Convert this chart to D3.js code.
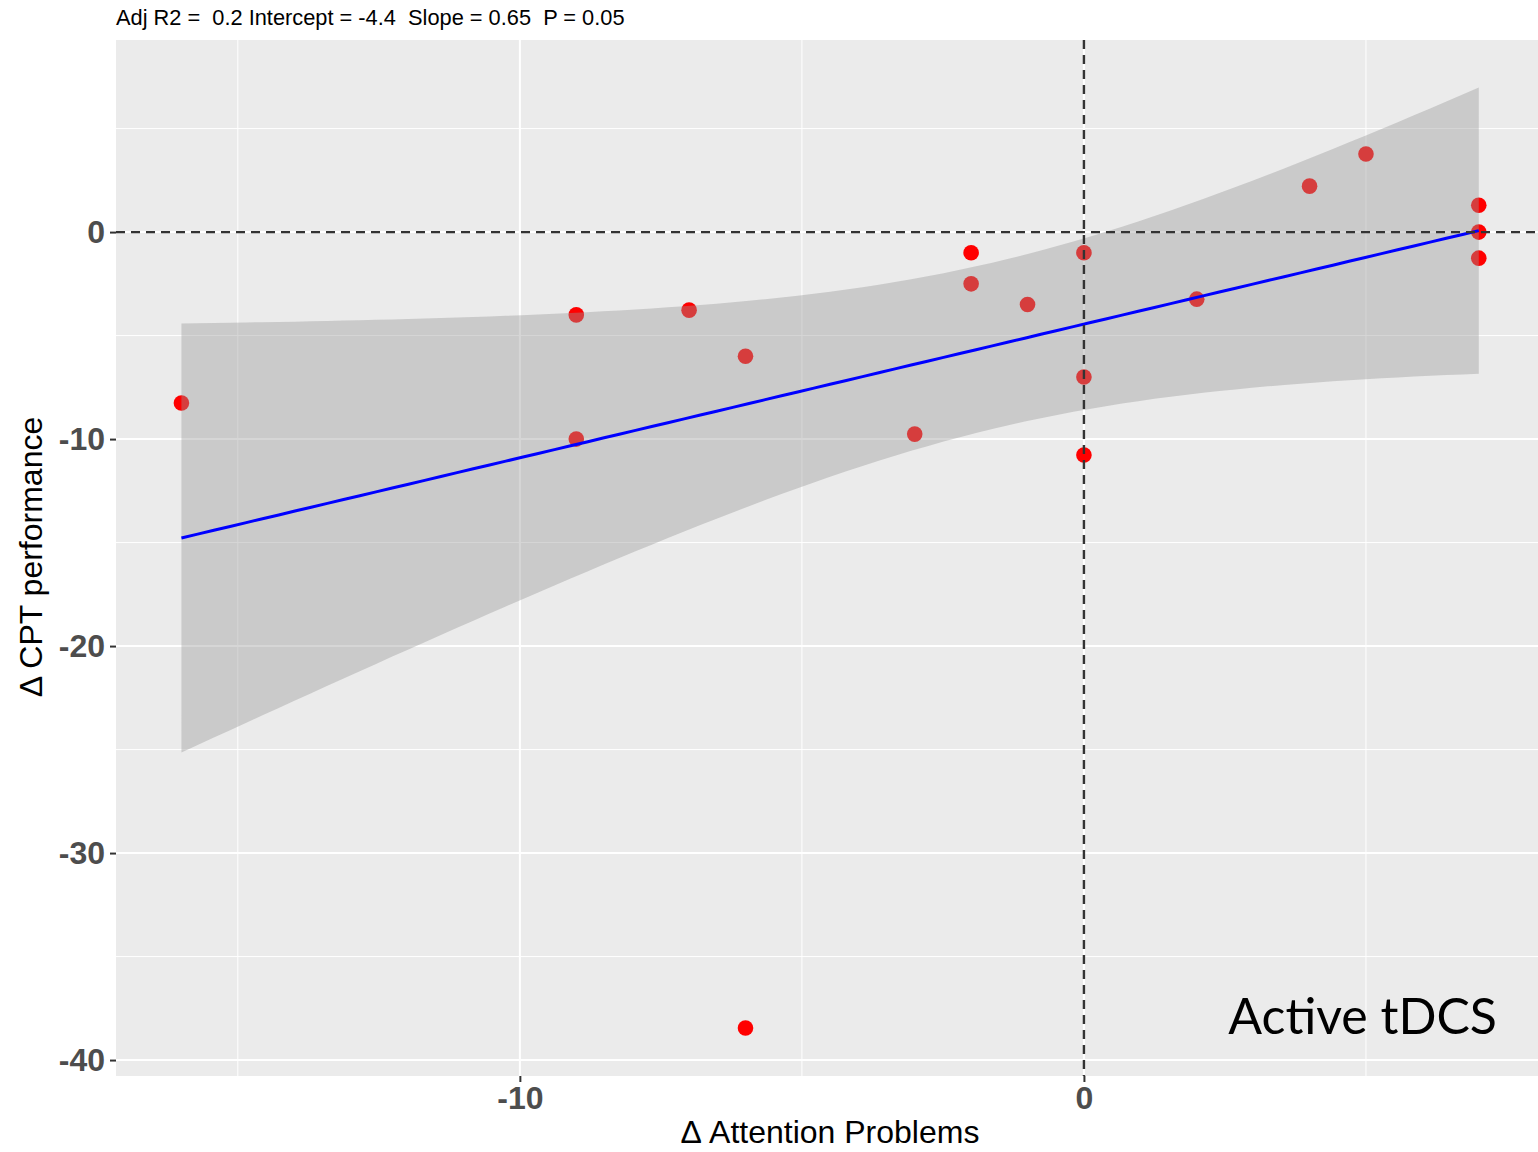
<!DOCTYPE html>
<html>
<head>
<meta charset="utf-8">
<script src="https://cdn.jsdelivr.net/npm/d3@7"></script>
<style>
  body { margin: 0; background: #fff; }
  .tick-label { font-family: "Liberation Sans", Arial, sans-serif; font-weight: bold; font-size: 32px; fill: #4d4d4d; }
  .axis-title { font-family: "Liberation Sans", Arial, sans-serif; font-size: 32px; fill: #000; }
</style>
</head>
<body>
<div id="chart"></div>
<script>
// change in attention problems vs change in CPT performance
const attentionChange = [-16, -9, -9, -7, -6, -6, -3, -2, -2, -1, 0, 0, 0, 2, 4, 5, 7, 7, 7];
const cptChange = [-8.26, -4, -10, -3.77, -6, -38.45, -9.76, -1, -2.5, -3.5, -1, -7, -10.77, -3.24, 2.22, 3.77, 1.3, 0, -1.26];

const xTicks = [-10, 0];
const yTicks = [0, -10, -20, -30, -40];
const xMinor = [-15, -5, 5];
const yMinor = [5, -5, -15, -25, -35];

const statsText = "Adj R2 =  0.2 Intercept = -4.4  Slope = 0.65  P = 0.05";
const xTitle = "\u0394 Attention Problems";
const yTitle = "\u0394 CPT performance";
const panelLabel = "Active tDCS";

const width = 1538, height = 1152;
const margin = { top: 40, right: 0, bottom: 76, left: 116 };

const svg = d3.select('#chart').append('svg')
    .attr('width', width)
    .attr('height', height);

const xScale = d3.scaleLinear().domain([-17.16, 8.05]).range([margin.left, width - margin.right]);
const yScale = d3.scaleLinear().domain([-40.77, 9.28]).range([height - margin.bottom, margin.top]);

const data = attentionChange.map((x, i) => ({ x: x, y: cptChange[i] }));

// linear fit + 95% confidence band, like geom_smooth(method = "lm")
const n = data.length;
const xbar = d3.mean(data, d => d.x);
const ybar = d3.mean(data, d => d.y);
const sxx = d3.sum(data, d => (d.x - xbar) ** 2);
const sxy = d3.sum(data, d => (d.x - xbar) * (d.y - ybar));
const slope = sxy / sxx;
const intercept = ybar - slope * xbar;
const sse = d3.sum(data, d => (d.y - intercept - slope * d.x) ** 2);
const s = Math.sqrt(sse / (n - 2));
const tq = 2.1098; // t(0.975, 17)
const xExt = d3.extent(data, d => d.x);
const fit = d3.range(0, 81).map(i => {
    const x = xExt[0] + (xExt[1] - xExt[0]) * i / 80;
    const yhat = intercept + slope * x;
    const hw = tq * s * Math.sqrt(1 / n + (x - xbar) ** 2 / sxx);
    return { x: x, y: yhat, lo: yhat - hw, hi: yhat + hw };
});

// panel background
svg.append('rect')
    .attr('x', margin.left).attr('y', margin.top)
    .attr('width', width - margin.left - margin.right)
    .attr('height', height - margin.top - margin.bottom)
    .attr('fill', '#ebebeb');

const grid = svg.append('g');
grid.selectAll('.vminor').data(xMinor).join('line')
    .attr('x1', d => xScale(d)).attr('x2', d => xScale(d))
    .attr('y1', margin.top).attr('y2', height - margin.bottom)
    .attr('stroke', '#fff').attr('stroke-width', 1);
grid.selectAll('.hminor').data(yMinor).join('line')
    .attr('y1', d => yScale(d)).attr('y2', d => yScale(d))
    .attr('x1', margin.left).attr('x2', width - margin.right)
    .attr('stroke', '#fff').attr('stroke-width', 1);
grid.selectAll('.vmajor').data(xTicks).join('line')
    .attr('x1', d => xScale(d)).attr('x2', d => xScale(d))
    .attr('y1', margin.top).attr('y2', height - margin.bottom)
    .attr('stroke', '#fff').attr('stroke-width', 2);
grid.selectAll('.hmajor').data(yTicks).join('line')
    .attr('y1', d => yScale(d)).attr('y2', d => yScale(d))
    .attr('x1', margin.left).attr('x2', width - margin.right)
    .attr('stroke', '#fff').attr('stroke-width', 2);

// points (drawn under the band)
svg.append('g').selectAll('circle').data(data).join('circle')
    .attr('cx', d => xScale(d.x))
    .attr('cy', d => yScale(d.y))
    .attr('r', 7.8)
    .attr('fill', '#ff0000');

// confidence band
const area = d3.area()
    .x(d => xScale(d.x))
    .y0(d => yScale(d.lo))
    .y1(d => yScale(d.hi));
svg.append('path').datum(fit)
    .attr('d', area)
    .attr('fill', '#999999')
    .attr('fill-opacity', 0.4);

// fit line
svg.append('path').datum(fit)
    .attr('d', d3.line().x(d => xScale(d.x)).y(d => yScale(d.y)))
    .attr('fill', 'none')
    .attr('stroke', '#0000ff')
    .attr('stroke-width', 3);

// reference lines at zero
svg.append('line')
    .attr('x1', xScale(0)).attr('x2', xScale(0))
    .attr('y1', margin.top).attr('y2', height - margin.bottom)
    .attr('stroke', '#333').attr('stroke-width', 2.4).attr('stroke-dasharray', '9,6');
svg.append('line')
    .attr('y1', yScale(0)).attr('y2', yScale(0))
    .attr('x1', margin.left).attr('x2', width - margin.right)
    .attr('stroke', '#333').attr('stroke-width', 2.4).attr('stroke-dasharray', '9,6');

// axes (plain hyphen minus like the original)
const xAxis = d3.axisBottom(xScale).tickValues(xTicks).tickFormat(d => String(d))
    .tickSize(6).tickSizeOuter(0).tickPadding(4);
const yAxis = d3.axisLeft(yScale).tickValues(yTicks).tickFormat(d => String(d))
    .tickSize(6).tickSizeOuter(0).tickPadding(5);

svg.append('g')
    .attr('transform', `translate(0,${height - margin.bottom})`)
    .call(xAxis)
    .call(g => g.select('.domain').remove())
    .call(g => g.selectAll('.tick line').attr('stroke', '#333').attr('stroke-width', 2))
    .call(g => g.selectAll('.tick text').attr('class', 'tick-label').attr('font-size', null).attr('font-family', null));

svg.append('g')
    .attr('transform', `translate(${margin.left},0)`)
    .call(yAxis)
    .call(g => g.select('.domain').remove())
    .call(g => g.selectAll('.tick line').attr('stroke', '#333').attr('stroke-width', 2))
    .call(g => g.selectAll('.tick text').attr('class', 'tick-label').attr('font-size', null).attr('font-family', null));

// titles
svg.append('text')
    .attr('x', 116).attr('y', 25)
    .style('font-family', '"Liberation Sans", Arial, sans-serif')
    .style('font-size', '21.8px')
    .style('white-space', 'pre')
    .text(statsText);

svg.append('text')
    .attr('class', 'axis-title')
    .attr('x', 830).attr('y', 1143)
    .attr('text-anchor', 'middle')
    .text(xTitle);

svg.append('text')
    .attr('class', 'axis-title')
    .attr('transform', 'translate(42,557) rotate(-90)')
    .attr('text-anchor', 'middle')
    .text(yTitle);

svg.append('text')
    .attr('x', 1497).attr('y', 1034)
    .attr('text-anchor', 'end')
    .style('font-family', 'Lato, "Open Sans", sans-serif')
    .style('font-size', '50px')
    .text(panelLabel);
</script>
</body>
</html>
